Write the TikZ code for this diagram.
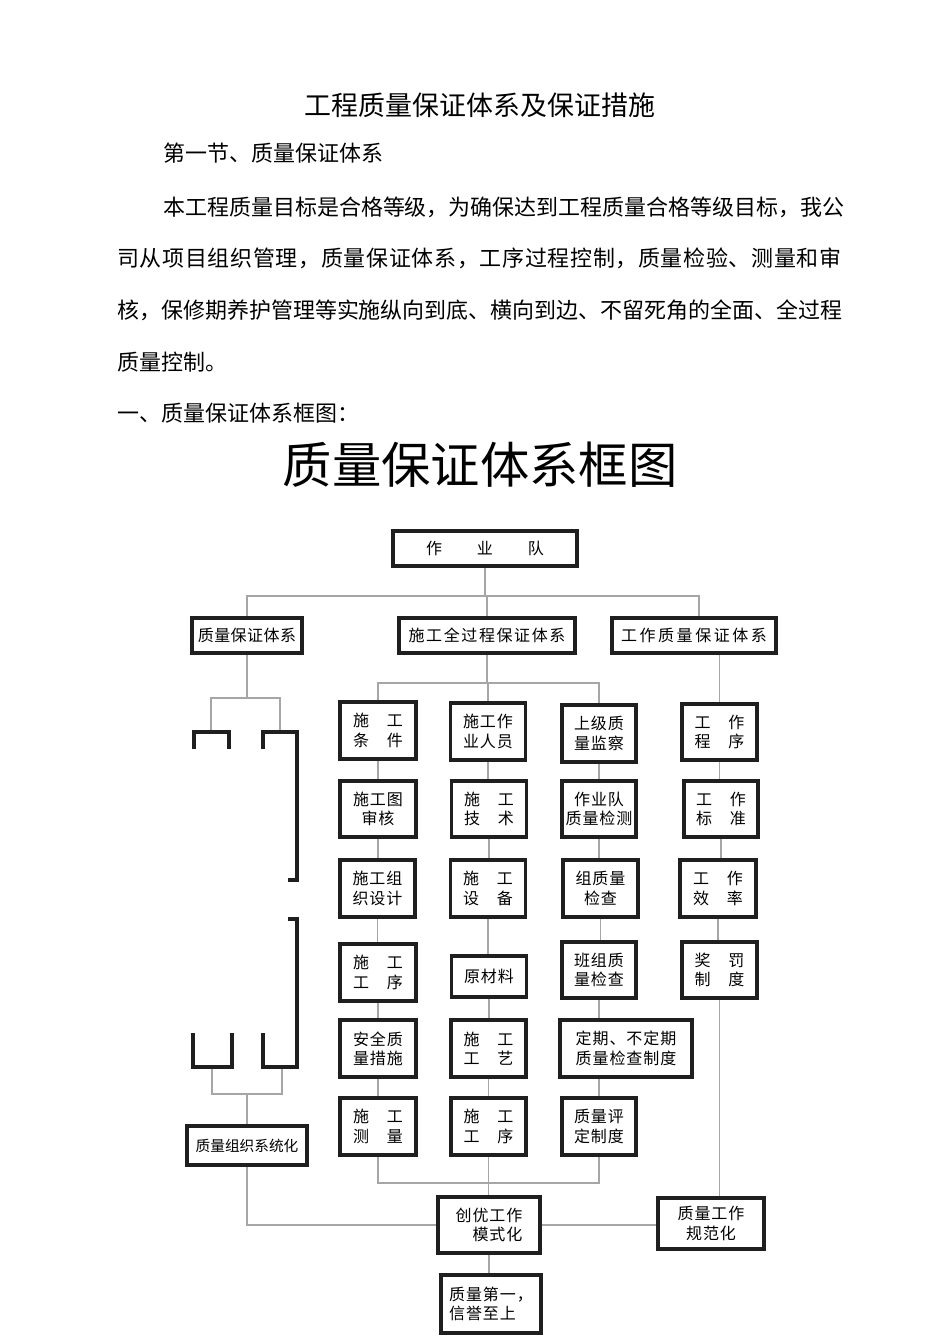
\documentclass[tikz,border=0pt]{standalone}
\usepackage{fontspec}
\setmainfont{Noto Sans CJK SC}
\newfontfamily\hei{Noto Sans CJK SC}
\newcommand\boxf{\hei\fontsize{12}{14.5}\selectfont\addfontfeature{LetterSpace=6}}
\newcommand\bodyf{\hei\fontsize{16.48}{20}\selectfont}
\tikzset{
 conn/.style={draw=black!35, line width=1.1pt},
 bx/.style={draw=black!88, fill=white, line width=2.3pt, inner sep=0pt, align=center, font=\boxf},
 brk/.style={draw=black!88, line width=2.3pt},
 wh/.style 2 args={minimum width=#1*0.75pt, minimum height=#2*0.75pt},
 txt/.style={inner sep=0pt, font=\bodyf},
}
\begin{document}
\begin{tikzpicture}[x=0.75pt,y=-0.75pt]
\useasboundingbox (0,0) rectangle (950,1344);
\fill[white] (0,0) rectangle (950,1344);
% ---------- text ----------
\node[inner sep=0pt, font={\hei\fontsize{20.2}{24}\selectfont}] (title) at (480,105) {工程质量保证体系及保证措施};
\node[txt, anchor=west] (sec) at (163,153) {第一节、质量保证体系};
\node[txt, anchor=west] (p1) at (163,207) {本工程质量目标是合格等级，为确保达到工程质量合格等级目标，我公};
\node[txt, anchor=west, font={\bodyf\addfontfeature{LetterSpace=3.1}}] (p2) at (117,258) {司从项目组织管理，质量保证体系，工序过程控制，质量检验、测量和审};
\node[txt, anchor=west] (p3) at (117,310) {核，保修期养护管理等实施纵向到底、横向到边、不留死角的全面、全过程};
\node[txt, anchor=west] (p4) at (117,362) {质量控制。};
\node[txt, anchor=west] (h1) at (117,413) {一、质量保证体系框图：};
\node[inner sep=0pt, font={\hei\fontsize{37}{40}\selectfont}] (big) at (480,465) {质量保证体系框图};
% ---------- boxes ----------
\node[bx, wh={184}{35}] (zyd) at (485,548.5) {作　　业　　队};
\node[bx, wh={110}{35}, font={\boxf\addfontfeature{LetterSpace=3}}] (zb) at (247,635.5) {质量保证体系};
\node[bx, wh={176}{35}, font={\boxf\addfontfeature{LetterSpace=10}}] (sg) at (487,635.5) {施工全过程保证体系};
\node[bx, wh={164}{35}, font={\boxf\addfontfeature{LetterSpace=16}}] (gz) at (694,635.5) {工作质量保证体系};

\node[bx, wh={76}{57}] (a1) at (378,730.5) {施　工\\条　件};
\node[bx, wh={76}{56}] (a2) at (378,809) {施工图\\审核};
\node[bx, wh={75}{57}] (a3) at (377.5,888.5) {施工组\\织设计};
\node[bx, wh={76}{57}] (a4) at (378,972.5) {施　工\\工　序};
\node[bx, wh={76}{57}] (a5) at (378,1048.5) {安全质\\量措施};
\node[bx, wh={76}{57}] (a6) at (378,1126.5) {施　工\\测　量};

\node[bx, wh={75}{57}] (b1) at (488,731.5) {施工作\\业人员};
\node[bx, wh={75}{56}] (b2) at (489,809) {施　工\\技　术};
\node[bx, wh={75}{57}] (b3) at (488,888.5) {施　工\\设　备};
\node[bx, wh={75}{41}] (b4) at (489,976.5) {原材料};
\node[bx, wh={75}{57}] (b5) at (488.5,1048.5) {施　工\\工　艺};
\node[bx, wh={75}{57}] (b6) at (488.5,1126.5) {施　工\\工　序};

\node[bx, wh={74}{57}] (c1) at (599,733.5) {上级质\\量监察};
\node[bx, wh={74}{56}] (c2) at (599,809) {作业队\\质量检测};
\node[bx, wh={75}{57}] (c3) at (600.5,888.5) {组质量\\检查};
\node[bx, wh={74}{56}] (c4) at (599,970) {班组质\\量检查};
\node[bx, wh={132}{57}] (c5) at (626,1048.5) {定期、不定期\\质量检查制度};
\node[bx, wh={74}{57}] (c6) at (599,1126.5) {质量评\\定制度};

\node[bx, wh={75}{56}] (d1) at (719.5,732) {工　作\\程　序};
\node[bx, wh={74}{56}] (d2) at (721,809) {工　作\\标　准};
\node[bx, wh={76}{57}] (d3) at (718,888.5) {工　作\\效　率};
\node[bx, wh={75}{56}] (d4) at (719.5,970) {奖　罚\\制　度};

\node[bx, wh={120}{39}, font={\hei\fontsize{11}{13}\selectfont}] (zz) at (247,1145.5) {质量组织系统化};
\node[bx, wh={102}{56}, align=right] (cy) at (489,1225) {创优工作\\模式化};
\node[bx, wh={106}{51}] (gf) at (711,1223.5) {质量工作\\规范化};
\node[bx, wh={100}{58}, align=left] (zy) at (491,1304) {质量第一，\\信誉至上};

% ---------- connectors ----------
\coordinate (t1) at (485,596);
\draw[conn] (zyd.south) -- (t1);
\draw[conn] (zb.north) |- (t1) -| ([xshift=3.75pt]gz.north);
\draw[conn] (sg.north) -- (sg.north |- t1);

\coordinate (m1) at (487,683);
\draw[conn] (sg.south) -- (m1);
\draw[conn] (a1.north) |- (m1) -| (c1.north);
\draw[conn] (b1.north) -- (b1.north |- m1);
\draw[conn] (gz.south -| d1.north) -- (d1.north);

\foreach \u/\v in {a1/a2,a2/a3,a3/a4,a4/a5,a5/a6,b1/b2,b2/b3,b3/b4,b4/b5,b5/b6,c1/c2,c2/c3,c3/c4,d1/d2,d2/d3,d3/d4}
  \draw[conn] (\u.south) -- (\u.south |- \v.north);
\draw[conn] (c4.south) -- (c4.south |- c5.north);
\draw[conn] (c5.south -| c6.north) -- (c6.north);

\coordinate (m2) at (488,1183);
\draw[conn] (a6.south) |- (m2) -| (c6.south);
\draw[conn] (b6.south) -- (b6.south |- cy.north);
\draw[conn] (zz.south) |- (cy.west);
\draw[conn] (cy.east) -- (cy.east -| gf.west);
\draw[conn] (d4.south) -- (d4.south |- gf.north);
\draw[conn] (cy.south) -- (cy.south |- zy.north);

% left bracket structure
\coordinate (lb) at (247,698);
\draw[conn] (zb.south) -- (lb);
\draw[conn] (211,732) -- (211,698) -- (280,698) -- (280,732);
\coordinate (lb2) at (247,1094);
\draw[conn] (212,1067) -- (212,1094) -- (282,1094) -- (282,1067);
\draw[conn] (zz.north) -- (zz.north |- lb2);

\draw[brk] (194,749) -- (194,732) -- (229,732) -- (229,749);
\draw[brk] (263,749) -- (263,732) -- (297,732) -- (297,880) -- (288,880);
\draw[brk] (288,919) -- (297,919) -- (297,1067) -- (263,1067) -- (263,1033);
\draw[brk] (193,1033) -- (193,1067) -- (232,1067) -- (232,1033);
\end{tikzpicture}
\end{document}
